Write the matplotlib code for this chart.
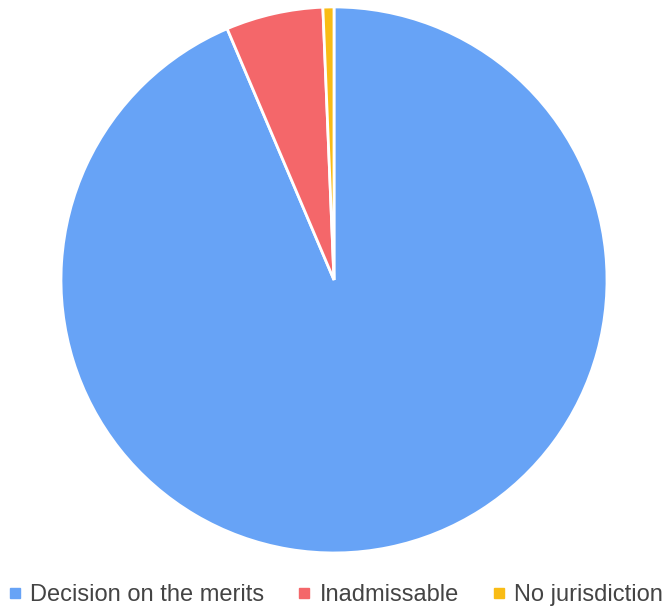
import matplotlib.pyplot as plt
from matplotlib.lines import Line2D

labels = ["Decision on the merits", "Inadmissable", "No jurisdiction"]
values = [93.6, 5.75, 0.65]
colors = ["#67a3f6", "#f4676a", "#f9bc15"]

plt.rcParams['font.family'] = ['Liberation Sans', 'DejaVu Sans']

fig = plt.figure(figsize=(6.68, 6.10), dpi=100)
ax = fig.add_axes([0.0913, 0.0935, 0.8174, 0.8951])
ax.pie(values, colors=colors, startangle=90, counterclock=False,
       wedgeprops=dict(edgecolor="white", linewidth=2))
ax.set_xlim(-1, 1)
ax.set_ylim(-1, 1)
ax.set_aspect('equal')
ax.axis('off')

handles = [Line2D([], [], marker='s', linestyle='none', markersize=7,
                  markerfacecolor=c, markeredgecolor=c) for c in colors]
fig.legend(handles, labels, loc='center', bbox_to_anchor=(0.503, 0.024),
           ncol=3, frameon=False, fontsize=17, handlelength=0.5,
           handletextpad=0.4, columnspacing=1.45, labelcolor='#444444')

fig.savefig("out.png", dpi=100)
